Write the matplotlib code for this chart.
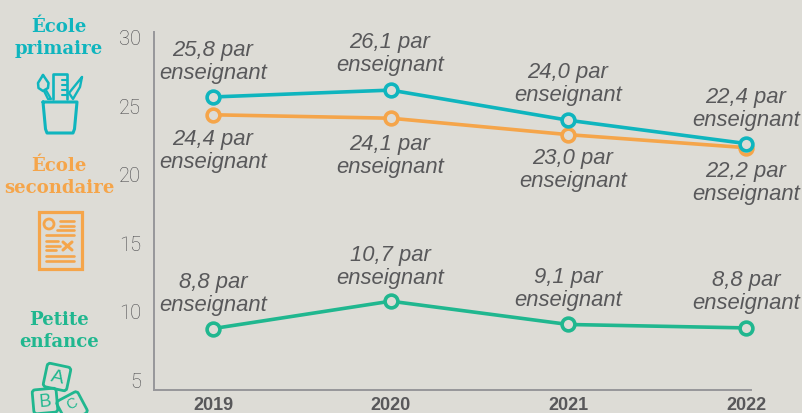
import numpy as np
import matplotlib.pyplot as plt
from matplotlib.patches import Circle, FancyBboxPatch, Polygon, Rectangle
from matplotlib.transforms import Affine2D

years = ['2019', '2020', '2021', '2022']
primaire = [25.6, 26.1, 23.9, 22.2]
secondaire = [24.3, 24.05, 22.85, 21.9]
petite = [8.7, 10.7, 9.0, 8.75]

labels_primaire = ['25,8', '26,1', '24,0', '22,4']
labels_secondaire = ['24,4', '24,1', '23,0', '22,2']
labels_petite = ['8,8', '10,7', '9,1', '8,8']

yticks = [5, 10, 15, 20, 25, 30]

TEAL = '#0FB5BE'
ORANGE = '#F5A54A'
GREEN = '#20B78F'
GREY = '#58585A'
BG = '#DDDCD6'

W, H = 802, 414
fig = plt.figure(figsize=(W / 100, H / 100), dpi=100, facecolor=BG)

# plot area, left spine at x=153.5, bottom at y=391
left, right, top, bottom = 153.5, 751, 33, 391
ax = fig.add_axes([left / W, 1 - bottom / H, (right - left) / W, (bottom - top) / H])
ax.set_facecolor('none')
ax.set_ylim(4.22, 30.34)
# x in category index, 2019 at 213 px and 177.7 px per year
ax.set_xlim((left - 213) / 177.7, (right - 213) / 177.7)

x = np.arange(len(years))
for vals, col in [(secondaire, ORANGE), (petite, GREEN), (primaire, TEAL)]:
    ax.plot(x, vals, color=col, lw=2.6, marker='o', ms=9.2, mfc=BG, mew=2.6, clip_on=False)

ax.set_xticks(x, years, fontfamily='Liberation Sans', fontweight='bold', fontsize=13, color=GREY)
ax.set_yticks(yticks)
ax.set_yticklabels([str(t) for t in yticks], fontfamily='Roboto', fontweight='light', fontsize=14.5, color='#47474A')
ax.tick_params(axis='both', length=0)
ax.tick_params(axis='x', pad=4)
ax.tick_params(axis='y', pad=9)
for s in ['top', 'right']:
    ax.spines[s].set_visible(False)
for s in ['left', 'bottom']:
    ax.spines[s].set_color('#97979A')
    ax.spines[s].set_linewidth(1.4)

# pixel overlay for labels and icons
ov = fig.add_axes([0, 0, 1, 1])
ov.set_xlim(0, W)
ov.set_ylim(H, 0)
ov.axis('off')
ov.patch.set_alpha(0)


def value_label(px, py, txt):
    ov.text(px, py + 1, txt + ' par\nenseignant', ha='center', va='center', fontsize=15.8,
            style='italic', color=GREY, fontfamily='Liberation Sans', linespacing=1.13)


for px, py, txt in zip([213, 390, 568, 746], [61, 53, 83, 108], labels_primaire):
    value_label(px, py, txt)
for px, py, txt in zip([213, 390, 573, 746], [150, 155, 169, 182], labels_secondaire):
    value_label(px, py, txt)
for px, py, txt in zip([213, 390, 568, 746], [293, 266, 288, 291], labels_petite):
    value_label(px, py, txt)


def heading(px, py, txt, col):
    ov.text(px, py, txt, ha='center', va='center', fontsize=13.1, fontweight='bold', color=col,
            fontfamily='DejaVu Serif', linespacing=1.33)


heading(59, 38, 'École\nprimaire', TEAL)
heading(59, 177, 'École\nsecondaire', ORANGE)
heading(59, 331, 'Petite\nenfance', GREEN)


def line(xs, ys, col, lw=2.0):
    ov.plot(xs, ys, color=col, lw=lw, solid_capstyle='round', solid_joinstyle='round')


# pencil cup
line([43, 77, 74.5, 73, 47, 45.5, 43], [103, 103, 130, 134, 134, 130, 103], TEAL, 2.2)
# ruler
line([53, 53, 67, 67], [100, 75, 75, 100], TEAL, 1.9)
for yy in [81, 86, 91, 96]:
    line([62, 67], [yy, yy], TEAL, 1.5)
# brush
line([43, 38, 38.5, 43, 48, 48.5, 43], [76, 84, 89, 92, 89, 84, 76], TEAL, 1.8)
line([44, 48, 51, 46.5], [92, 100, 100, 92], TEAL, 1.6)
# pencil
line([82, 80, 73, 69, 82], [78, 88, 100, 94, 78], TEAL, 1.7)

# exam sheet
ov.add_patch(Rectangle((38.5, 213), 43, 57, fill=False, ec=ORANGE, lw=2.3))
ov.add_patch(Circle((49, 225), 5, fill=False, ec=ORANGE, lw=2))
for yy, x0 in [(222, 60), (227, 60), (231, 57), (236, 46)]:
    line([x0, 74], [yy, yy], ORANGE, 1.9)
for yy, x1 in [(242, 58), (247, 60), (251, 56)]:
    line([46, x1], [yy, yy], ORANGE, 1.9)
line([63, 72], [243, 251], ORANGE, 2.2)
line([72, 63], [243, 251], ORANGE, 2.2)
line([46, 74], [257, 257], ORANGE, 1.9)
line([46, 74], [262, 262], ORANGE, 1.9)


def block(cx, cy, size, angle, letter, ty, fs):
    tr = Affine2D().rotate_deg_around(cx, cy, angle) + ov.transData
    ov.add_patch(FancyBboxPatch((cx - size / 2, cy - size / 2), size, size,
                                boxstyle='round,pad=0,rounding_size=3', fill=False,
                                ec=GREEN, lw=2, transform=tr))
    ov.text(cx, ty, letter, ha='center', va='center', fontsize=fs, color=GREEN,
            rotation=-angle, fontfamily='Liberation Sans')


# toy blocks, the lower ones run off the bottom of the picture
block(57, 378, 24, 12, 'A', 378, 14)
block(45, 402, 24, -5, 'B', 402, 13)
block(72, 408, 24, -28, 'C', 404, 10.5)

fig.savefig('out.png', dpi=100, facecolor=BG)
